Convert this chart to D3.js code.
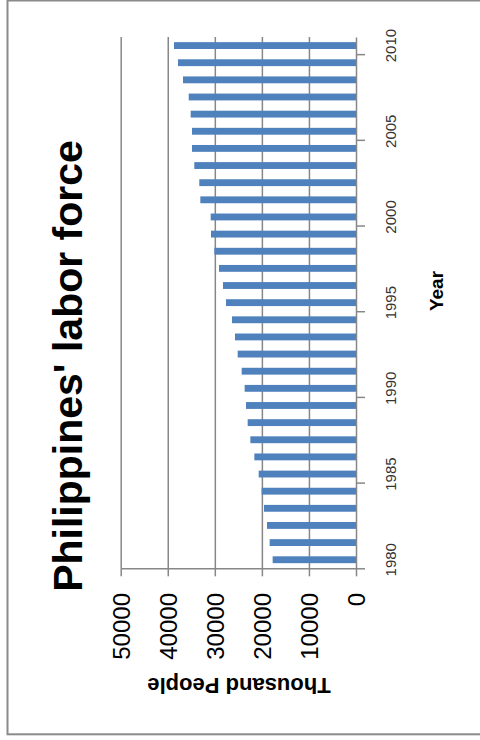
<!DOCTYPE html>
<html>
<head>
<meta charset="utf-8">
<script src="https://cdn.jsdelivr.net/npm/d3@7"></script>
<style>
  html, body { margin: 0; padding: 0; background: #fff; }
  svg { display: block; font-family: "Liberation Sans", Arial, sans-serif; }
</style>
</head>
<body>
<svg id="chart" width="480" height="740"></svg>
<script>
// Philippines labor force, thousands of people, 1980-2010
const years = d3.range(1980, 2011);
const laborForce = [
  17710, 18350, 18910, 19550, 20050, 20680, 21600, 22450, 23020, 23370,
  23660, 24290, 25140, 25710, 26350, 27620, 28260, 29110, 30100, 30810,
  30880, 33080, 33300, 34360, 34850, 34850, 35130, 35550, 36760, 37820,
  38670
];
const valueTicks = [0, 10000, 20000, 30000, 40000, 50000];
const yearLabels = [1980, 1985, 1990, 1995, 2000, 2005, 2010];
const titleText = "Philippines' labor force";
const valueTitle = "Thousand People";
const yearTitle = "Year";

const svg = d3.select("#chart");
const gridColor = "#878787";

// outer frame
svg.append("rect")
  .attr("x", 7.5).attr("y", 0.5)
  .attr("width", 490).attr("height", 733.8)
  .attr("fill", "none").attr("stroke", "#8a8a8a").attr("stroke-width", 2);

// the chart is laid on its side: years run bottom-to-top, values right-to-left
const plot = { top: 37, bottom: 568.3, left: 120.7, right: 356 };

const x = d3.scaleLinear().domain([0, 50000]).range([plot.right, plot.left]);
const y = d3.scaleBand().domain(years)
  .range([plot.bottom, plot.top])
  .paddingInner(0.6).paddingOuter(0.3);
// category boundaries, for the tick marks between years
const yEdge = d3.scaleLinear().domain([0, years.length]).range([plot.bottom, plot.top]);

// gridlines
svg.append("g")
  .attr("transform", `translate(0,${plot.bottom})`)
  .call(d3.axisBottom(x).tickValues(valueTicks.slice(1))
    .tickSize(-(plot.bottom - plot.top)).tickFormat(""))
  .call(g => g.select(".domain").remove())
  .call(g => g.selectAll("line").attr("stroke", gridColor).attr("stroke-width", 1.5));

// bars
svg.append("g")
  .selectAll("rect")
  .data(years)
  .join("rect")
  .attr("x", (d, i) => x(laborForce[i]))
  .attr("y", d => y(d))
  .attr("width", (d, i) => x(0) - x(laborForce[i]))
  .attr("height", y.bandwidth())
  .attr("fill", "#4f81bd");

// value axis
svg.append("g")
  .attr("transform", `translate(0,${plot.bottom})`)
  .call(d3.axisBottom(x).tickValues(valueTicks).tickSize(8).tickSizeOuter(0)
    .tickFormat(d3.format("d")))
  .call(g => g.select(".domain").attr("stroke", gridColor).attr("stroke-width", 1.5))
  .call(g => g.selectAll(".tick line").attr("stroke", gridColor).attr("stroke-width", 1.5))
  .call(g => g.selectAll(".tick text")
    .attr("x", 0).attr("y", 0).attr("dy", "0.36em")
    .attr("transform", "translate(0,24.7) rotate(-90)")
    .attr("text-anchor", "end")
    .attr("fill", "#000")
    .style("font-size", "24px")
    .style("font-family", "'Liberation Sans', Arial, sans-serif"));

// year axis: line and boundary ticks every five years
svg.append("g")
  .attr("transform", `translate(${plot.right},0)`)
  .call(d3.axisRight(yEdge).tickValues(d3.range(0, years.length, 5))
    .tickSize(9).tickSizeOuter(0).tickFormat(""))
  .call(g => g.select(".domain").attr("stroke", gridColor).attr("stroke-width", 1.5))
  .call(g => g.selectAll(".tick line").attr("stroke", gridColor).attr("stroke-width", 1.5));

// year labels
svg.append("g")
  .attr("transform", `translate(${plot.right},0)`)
  .call(d3.axisRight(y).tickValues(yearLabels).tickSize(0).tickSizeOuter(0))
  .call(g => g.select(".domain").remove())
  .call(g => g.selectAll(".tick text")
    .attr("x", 0).attr("y", 0).attr("dy", 0)
    .attr("transform", "translate(39.5,0) rotate(-90)")
    .attr("text-anchor", "middle")
    .attr("fill", "#333")
    .style("font-size", "15px")
    .style("font-family", "'Liberation Sans', Arial, sans-serif"));

// titles
svg.append("text")
  .attr("transform", "translate(82,366) rotate(-90)")
  .attr("text-anchor", "middle")
  .style("font-size", "41px").style("font-weight", "bold")
  .text(titleText);

svg.append("text")
  .attr("transform", "translate(443,291) rotate(-90)")
  .attr("text-anchor", "middle")
  .style("font-size", "19px").style("font-weight", "bold")
  .text(yearTitle);

svg.append("text")
  .attr("transform", "translate(239,677.5) rotate(180)")
  .attr("text-anchor", "middle")
  .style("font-size", "22px").style("font-weight", "bold")
  .text(valueTitle);
</script>
</body>
</html>
